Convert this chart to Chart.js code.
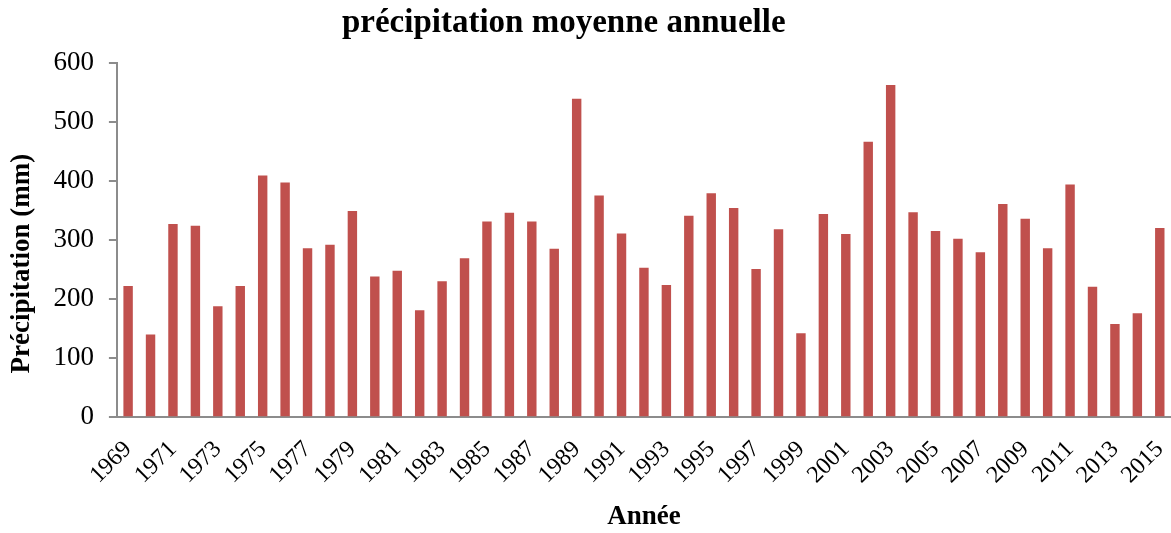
<!DOCTYPE html>
<html>
<head>
<meta charset="utf-8">
<script src="https://cdn.jsdelivr.net/npm/chart.js@4.4.0/dist/chart.umd.min.js"></script>
<style>
 html, body { margin: 0; padding: 0; background: #fff; }
 #wrap { width: 1171px; height: 533px; }
</style>
</head>
<body>
<div id="wrap"><canvas id="precipChart" width="1171" height="533"></canvas></div>
<script>
var years = [
 "1969", "1970", "1971", "1972", "1973", "1974", "1975", "1976", "1977", "1978",
 "1979", "1980", "1981", "1982", "1983", "1984", "1985", "1986", "1987", "1988",
 "1989", "1990", "1991", "1992", "1993", "1994", "1995", "1996", "1997", "1998",
 "1999", "2000", "2001", "2002", "2003", "2004", "2005", "2006", "2007", "2008",
 "2009", "2010", "2011", "2012", "2013", "2014", "2015"
];

// precipitation (mm)
var precipitation = [
 222, 140, 327, 324, 188, 222, 409, 397, 286, 292,
 349, 238, 248, 181, 230, 269, 331, 346, 331, 285,
 539, 375, 311, 253, 224, 341, 379, 354, 251, 318,
 142, 344, 310, 466, 562, 347, 315, 302, 279, 361,
 336, 286, 394, 221, 158, 176, 320
];

var yTicks = [0, 100, 200, 300, 400, 500, 600];

var barColor = "#C0504D";
var axisColor = "#8c8c8c";
var serif = "'Liberation Serif', 'Times New Roman', serif";

// trailing spaces nudge the centred titles off-centre like the original
var chartTitle = "précipitation moyenne annuelle      ";
var yTitle = "Précipitation (mm)       ";

var chartDiv = document.getElementById("precipChart");

new Chart(chartDiv, {
 type: "bar",
 data: {
  labels: years,
  datasets: [
   {
    label: "Précipitation",
    data: precipitation,
    backgroundColor: barColor,
    borderWidth: 0,
    barPercentage: 0.42,
    categoryPercentage: 1.0,
   },
  ],
 },
 options: {
  responsive: false,
  animation: false,
  layout: {
   padding: { left: 6, right: 0, top: 4, bottom: 0 },
  },
  plugins: {
   legend: { display: false },
   tooltip: { enabled: false },
   title: {
    display: true,
    text: chartTitle,
    color: "#000",
    font: { family: serif, size: 33, weight: "bold" },
    padding: { top: 0, bottom: 19 },
   },
  },
  scales: {
   x: {
    afterFit: function (scale) {
     // let the last category run up to the canvas edge
     scale.paddingRight = 0;
    },
    grid: { display: false },
    border: { display: true, color: axisColor, width: 2 },
    ticks: {
     autoSkip: false,
     minRotation: 45,
     maxRotation: 45,
     color: "#000",
     padding: 10,
     font: { family: serif, size: 24 },
     callback: function (value, index) {
      return index % 2 === 0 ? years[index] : "";
     },
    },
    title: {
     display: true,
     text: "Année",
     color: "#000",
     font: { family: serif, size: 27, weight: "bold" },
     padding: { top: 1, bottom: 0 },
    },
   },
   y: {
    min: 0,
    max: 600,
    afterBuildTicks: function (axis) {
     axis.ticks = yTicks.map(function (v) {
      return { value: v };
     });
    },
    grid: {
     drawOnChartArea: false,
     drawTicks: true,
     tickLength: 8,
     color: axisColor,
     lineWidth: 2,
    },
    border: { display: true, color: axisColor, width: 2 },
    ticks: {
     color: "#000",
     padding: 15,
     font: { family: serif, size: 27 },
    },
    title: {
     display: true,
     text: yTitle,
     color: "#000",
     font: { family: serif, size: 27, weight: "bold" },
     padding: { top: 0, bottom: 0 },
    },
   },
  },
 },
});
</script>
</body>
</html>
